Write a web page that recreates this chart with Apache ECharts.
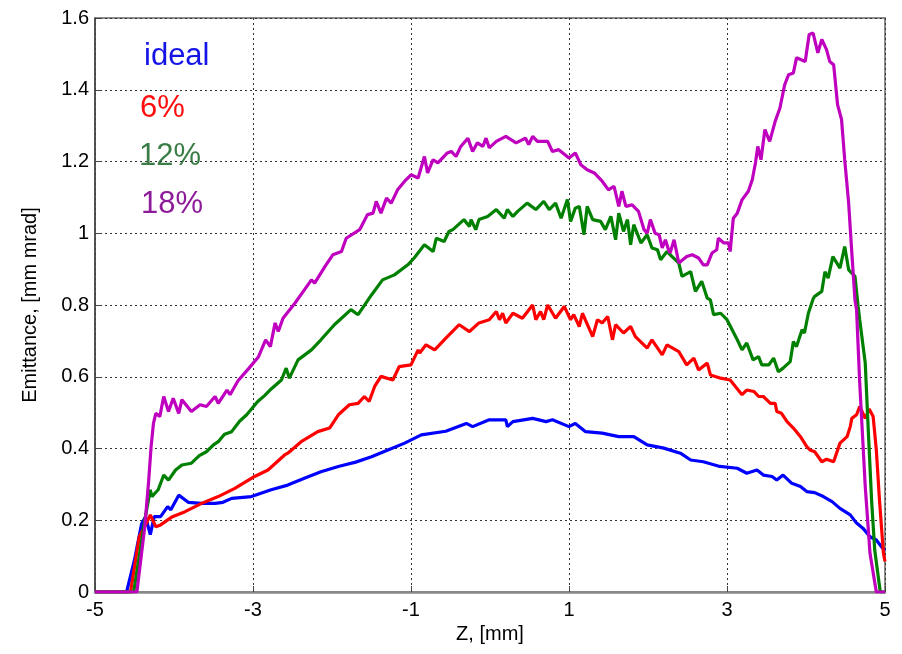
<!DOCTYPE html>
<html>
<head>
<meta charset="utf-8">
<script src="https://cdn.jsdelivr.net/npm/echarts@6/dist/echarts.min.js"></script>
<style>
  html, body { margin: 0; padding: 0; background: #ffffff; }
  #chart { width: 902px; height: 654px; }
</style>
</head>
<body>
<div id="chart"></div>
<script>
// Emittance along the bunch, Z in mm, emittance in mm mrad
const xTicks = [-5, -3, -1, 1, 3, 5];
const yTicks = [0, 0.2, 0.4, 0.6, 0.8, 1, 1.2, 1.4, 1.6];
const seriesNames = ['ideal', '6%', '12%', '18%'];

const ideal = [
  [-5, 0], [-4.6, 0], [-4.5, 0.09], [-4.41, 0.19], [-4.36, 0.21], [-4.30, 0.16], [-4.25, 0.21],
  [-4.17, 0.21], [-4.08, 0.238], [-4.04, 0.229], [-3.94, 0.27], [-3.82, 0.25], [-3.65, 0.247],
  [-3.48, 0.247], [-3.38, 0.25], [-3.27, 0.261], [-3.02, 0.266], [-2.77, 0.285], [-2.56, 0.298],
  [-2.35, 0.317], [-2.14, 0.335], [-1.92, 0.35], [-1.70, 0.362], [-1.50, 0.377], [-1.30, 0.395],
  [-1.08, 0.415], [-0.87, 0.438], [-0.56, 0.448], [-0.30, 0.47], [-0.22, 0.461], [-0.01, 0.48],
  [0.20, 0.48], [0.22, 0.461], [0.29, 0.475], [0.54, 0.484], [0.71, 0.475], [0.79, 0.48],
  [1.0, 0.461], [1.08, 0.47], [1.21, 0.447], [1.42, 0.443], [1.63, 0.433], [1.82, 0.433],
  [1.99, 0.41], [2.20, 0.401], [2.41, 0.387], [2.54, 0.368], [2.70, 0.363], [2.91, 0.35],
  [3.13, 0.345], [3.25, 0.331], [3.38, 0.34], [3.46, 0.326], [3.57, 0.322], [3.63, 0.312],
  [3.71, 0.326], [3.82, 0.303], [3.93, 0.294], [4.01, 0.28], [4.11, 0.277], [4.22, 0.266],
  [4.33, 0.252], [4.43, 0.233], [4.56, 0.215], [4.64, 0.192], [4.72, 0.178], [4.81, 0.154],
  [4.89, 0.145], [4.97, 0.122], [5.0, 0.115]
];

const pct6 = [
  [-5, 0], [-4.55, 0], [-4.44, 0.154], [-4.34, 0.196], [-4.30, 0.215], [-4.23, 0.182], [-4.17, 0.187],
  [-4.02, 0.21], [-3.86, 0.224], [-3.65, 0.247], [-3.44, 0.266], [-3.23, 0.289], [-2.98, 0.322],
  [-2.81, 0.34], [-2.60, 0.382], [-2.56, 0.387], [-2.39, 0.419], [-2.18, 0.447], [-2.03, 0.457],
  [-1.92, 0.494], [-1.78, 0.522], [-1.67, 0.526], [-1.59, 0.545], [-1.53, 0.531], [-1.46, 0.573],
  [-1.38, 0.601], [-1.23, 0.591], [-1.15, 0.628], [-1.0, 0.633], [-0.91, 0.675], [-0.89, 0.666],
  [-0.81, 0.689], [-0.70, 0.675], [-0.54, 0.712], [-0.39, 0.745], [-0.26, 0.726], [-0.14, 0.75],
  [-0.01, 0.759], [0.08, 0.782], [0.12, 0.759], [0.16, 0.777], [0.20, 0.75], [0.29, 0.777],
  [0.41, 0.763], [0.54, 0.80], [0.58, 0.759], [0.64, 0.782], [0.68, 0.759], [0.73, 0.80],
  [0.83, 0.763], [0.94, 0.796], [1.02, 0.759], [1.06, 0.773], [1.13, 0.74], [1.17, 0.777],
  [1.30, 0.712], [1.36, 0.759], [1.42, 0.75], [1.49, 0.768], [1.55, 0.703], [1.59, 0.745],
  [1.69, 0.722], [1.78, 0.74], [1.84, 0.712], [1.99, 0.68], [2.05, 0.703], [2.18, 0.661],
  [2.24, 0.689], [2.39, 0.67], [2.49, 0.633], [2.58, 0.652], [2.64, 0.619], [2.75, 0.638],
  [2.79, 0.605], [2.92, 0.596], [3.04, 0.591], [3.19, 0.55], [3.25, 0.563], [3.34, 0.559],
  [3.40, 0.545], [3.46, 0.545], [3.55, 0.526], [3.61, 0.526], [3.63, 0.503], [3.69, 0.498],
  [3.76, 0.475], [3.84, 0.457], [3.93, 0.433], [4.01, 0.405], [4.05, 0.396], [4.11, 0.391],
  [4.20, 0.363], [4.26, 0.37], [4.35, 0.363], [4.43, 0.415], [4.52, 0.433], [4.56, 0.461],
  [4.58, 0.484], [4.64, 0.494], [4.68, 0.517], [4.75, 0.484], [4.80, 0.51], [4.85, 0.489],
  [4.89, 0.396], [4.93, 0.257], [4.98, 0.108], [5.0, 0.085]
];

const pct12 = [
  [-5, 0], [-4.51, 0], [-4.37, 0.2], [-4.30, 0.285], [-4.28, 0.266], [-4.20, 0.285], [-4.13, 0.326],
  [-4.07, 0.312], [-3.98, 0.34], [-3.90, 0.354], [-3.78, 0.359], [-3.68, 0.38], [-3.59, 0.391],
  [-3.50, 0.41], [-3.44, 0.419], [-3.36, 0.44], [-3.27, 0.447], [-3.17, 0.476], [-3.08, 0.494],
  [-2.94, 0.531], [-2.85, 0.548], [-2.77, 0.566], [-2.64, 0.591], [-2.58, 0.624], [-2.54, 0.596],
  [-2.43, 0.647], [-2.26, 0.675], [-2.14, 0.703], [-1.97, 0.745], [-1.76, 0.787], [-1.67, 0.773],
  [-1.50, 0.828], [-1.36, 0.87], [-1.21, 0.884], [-1.04, 0.912], [-0.96, 0.931], [-0.83, 0.968],
  [-0.72, 0.949], [-0.68, 0.986], [-0.58, 0.977], [-0.52, 1.005], [-0.47, 1.01], [-0.33, 1.038],
  [-0.26, 1.019], [-0.24, 1.038], [-0.18, 1.01], [-0.14, 1.038], [-0.03, 1.047], [0.08, 1.066],
  [0.18, 1.042], [0.22, 1.066], [0.29, 1.047], [0.35, 1.061], [0.47, 1.084], [0.58, 1.066],
  [0.68, 1.089], [0.75, 1.066], [0.83, 1.084], [0.90, 1.042], [0.98, 1.094], [1.02, 1.033],
  [1.08, 1.07], [1.13, 1.075], [1.19, 0.996], [1.23, 1.075], [1.30, 1.038], [1.40, 1.033],
  [1.46, 1.01], [1.53, 1.047], [1.59, 0.982], [1.63, 1.056], [1.69, 1.005], [1.74, 1.038],
  [1.78, 0.968], [1.82, 1.024], [1.91, 0.973], [1.99, 0.996], [2.05, 0.959], [2.12, 0.954],
  [2.16, 0.926], [2.24, 0.949], [2.39, 0.917], [2.43, 0.88], [2.54, 0.893], [2.60, 0.838],
  [2.68, 0.866], [2.75, 0.819], [2.79, 0.814], [2.83, 0.773], [2.92, 0.777], [3.0, 0.759],
  [3.13, 0.703], [3.19, 0.675], [3.25, 0.694], [3.33, 0.647], [3.40, 0.656], [3.44, 0.633],
  [3.53, 0.633], [3.59, 0.652], [3.65, 0.614], [3.71, 0.624], [3.80, 0.642], [3.84, 0.698],
  [3.88, 0.684], [3.95, 0.731], [3.98, 0.722], [4.03, 0.777], [4.09, 0.817], [4.11, 0.824],
  [4.20, 0.838], [4.24, 0.893], [4.28, 0.875], [4.34, 0.935], [4.43, 0.903], [4.49, 0.963],
  [4.54, 0.898], [4.62, 0.88], [4.66, 0.796], [4.68, 0.759], [4.75, 0.638], [4.79, 0.443],
  [4.83, 0.257], [4.87, 0.117], [4.94, 0], [5.0, 0]
];

const pct18 = [
  [-5, 0], [-4.47, 0], [-4.37, 0.182], [-4.32, 0.312], [-4.29, 0.405], [-4.26, 0.47], [-4.23, 0.498],
  [-4.18, 0.489], [-4.13, 0.545], [-4.07, 0.503], [-4.01, 0.54], [-3.94, 0.498], [-3.90, 0.536],
  [-3.78, 0.503], [-3.67, 0.522], [-3.59, 0.517], [-3.48, 0.545], [-3.44, 0.526], [-3.33, 0.563],
  [-3.29, 0.55], [-3.19, 0.589], [-3.05, 0.624], [-2.93, 0.656], [-2.84, 0.703], [-2.78, 0.684],
  [-2.72, 0.75], [-2.68, 0.726], [-2.62, 0.763], [-2.47, 0.805], [-2.35, 0.842], [-2.26, 0.87],
  [-2.22, 0.861], [-2.09, 0.907], [-1.99, 0.94], [-1.88, 0.949], [-1.82, 0.986], [-1.65, 1.01],
  [-1.55, 1.052], [-1.48, 1.056], [-1.44, 1.089], [-1.38, 1.056], [-1.31, 1.098], [-1.25, 1.084],
  [-1.17, 1.121], [-1.08, 1.145], [-1.0, 1.163], [-0.91, 1.154], [-0.83, 1.214], [-0.79, 1.168],
  [-0.72, 1.205], [-0.66, 1.196], [-0.54, 1.224], [-0.49, 1.228], [-0.43, 1.214], [-0.37, 1.242],
  [-0.28, 1.265], [-0.22, 1.228], [-0.16, 1.252], [-0.09, 1.242], [-0.05, 1.265], [-0.01, 1.238],
  [0.08, 1.256], [0.20, 1.27], [0.33, 1.252], [0.45, 1.265], [0.49, 1.247], [0.54, 1.27],
  [0.60, 1.256], [0.73, 1.256], [0.79, 1.228], [0.87, 1.233], [1.0, 1.21], [1.08, 1.224],
  [1.15, 1.191], [1.23, 1.177], [1.32, 1.168], [1.42, 1.145], [1.50, 1.121], [1.57, 1.131],
  [1.63, 1.075], [1.67, 1.117], [1.72, 1.075], [1.80, 1.079], [1.88, 1.061], [1.95, 1.01],
  [1.99, 1.0], [2.03, 1.038], [2.09, 1.0], [2.14, 0.996], [2.18, 0.959], [2.22, 0.982],
  [2.26, 0.954], [2.28, 0.945], [2.33, 0.982], [2.39, 0.917], [2.49, 0.935], [2.56, 0.94],
  [2.64, 0.931], [2.70, 0.912], [2.75, 0.912], [2.81, 0.945], [2.87, 0.954], [2.89, 0.986],
  [2.96, 0.973], [3.02, 0.973], [3.04, 0.949], [3.08, 1.042], [3.13, 1.056], [3.19, 1.093],
  [3.27, 1.117], [3.32, 1.149], [3.36, 1.196], [3.39, 1.242], [3.43, 1.205], [3.48, 1.289],
  [3.54, 1.256], [3.61, 1.312], [3.67, 1.349], [3.73, 1.414], [3.78, 1.442], [3.84, 1.447],
  [3.88, 1.489], [3.99, 1.479], [4.04, 1.554], [4.09, 1.558], [4.15, 1.503], [4.20, 1.54],
  [4.26, 1.512], [4.30, 1.479], [4.35, 1.47], [4.40, 1.358], [4.45, 1.317], [4.49, 1.205],
  [4.54, 1.084], [4.58, 0.945], [4.62, 0.814], [4.64, 0.787], [4.68, 0.582], [4.75, 0.294],
  [4.81, 0.108], [4.89, 0], [5.0, 0]
];

const lineColors = ['#0000ff', '#ff0000', '#008000', '#bf00bf'];
const labelColors = ['#1414e6', '#ff0d0d', '#3a7d46', '#8e1c9a'];
const seriesData = [ideal, pct6, pct12, pct18];

const FONT = 'Liberation Sans, Arial, sans-serif';
const gridLine = { show: true, lineStyle: { color: '#333', width: 1, type: [2, 3] } };

const chart = echarts.init(document.getElementById('chart'), null, { renderer: 'canvas' });

// series labels stacked in the upper-left corner of the plot
const labelTops = [70, 122, 170, 218];
const labelLefts = [144, 140, 139, 141];
const graphics = seriesNames.map((name, i) => ({
  type: 'text',
  left: labelLefts[i],
  top: labelTops[i] - 29,
  style: { text: name, fill: labelColors[i], font: '31px ' + FONT }
}));

chart.setOption({
  animation: false,
  backgroundColor: '#ffffff',
  grid: { left: 95, right: 17, top: 18, bottom: 62, show: true, borderColor: '#666', borderWidth: 1.5 },
  xAxis: {
    type: 'value', min: xTicks[0], max: xTicks[xTicks.length - 1], interval: 2,
    name: 'Z, [mm]', nameLocation: 'middle', nameGap: 32,
    nameTextStyle: { color: '#000', fontSize: 20, fontFamily: FONT },
    axisLine: { show: true, onZero: false, lineStyle: { color: '#888', width: 2.5 } },
    axisTick: { show: true, inside: true, length: 6, lineStyle: { color: '#444' } },
    axisLabel: { color: '#000', fontSize: 20, fontFamily: FONT, margin: 8 },
    splitLine: gridLine
  },
  yAxis: {
    type: 'value', min: yTicks[0], max: yTicks[yTicks.length - 1], interval: 0.2,
    name: 'Emittance, [mm mrad]', nameLocation: 'middle', nameGap: 55,
    nameTextStyle: { color: '#000', fontSize: 20, fontFamily: FONT },
    axisLine: { show: true, onZero: false, lineStyle: { color: '#444', width: 1.5 } },
    axisTick: { show: true, inside: true, length: 6, lineStyle: { color: '#444' } },
    axisLabel: { color: '#000', fontSize: 20, fontFamily: FONT, margin: 6 },
    splitLine: gridLine
  },
  graphic: graphics,
  series: seriesNames.map((name, i) => ({
    name: name,
    type: 'line',
    data: seriesData[i],
    showSymbol: false,
    symbol: 'none',
    lineStyle: { color: lineColors[i], width: 3.2 },
    z: 2 + i
  }))
});
</script>
</body>
</html>
